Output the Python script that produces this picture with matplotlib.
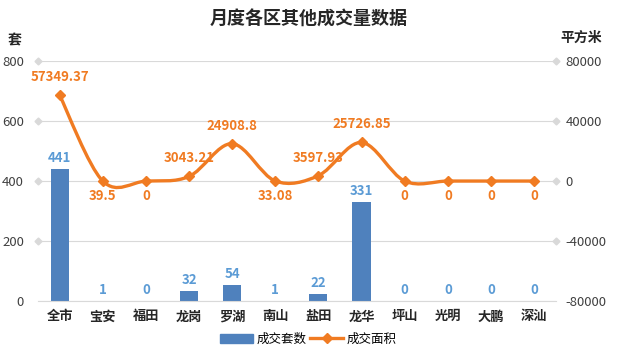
import matplotlib.pyplot as plt
import numpy as np
from matplotlib.path import Path
from matplotlib.patches import PathPatch
from matplotlib.lines import Line2D
from matplotlib.patches import Patch

plt.rcParams['font.family'] = ['Noto Sans CJK SC', 'DejaVu Sans']
plt.rcParams['axes.unicode_minus'] = False

# data
districts = ["全市", "宝安", "福田", "龙岗", "罗湖", "南山", "盐田", "龙华", "坪山", "光明", "大鹏", "深汕"]
units = [441, 1, 0, 32, 54, 1, 22, 331, 0, 0, 0, 0]
area = [57349.37, 39.5, 0, 3043.21, 24908.8, 33.08, 3597.93, 25726.85, 0, 0, 0, 0]
area_labels = ["57349.37", "39.5", "0", "3043.21", "24908.8", "33.08", "3597.93", "25726.85", "0", "0", "0", "0"]
area_label_above = [True, False, False, True, True, False, True, True, False, False, False, False]

bar_color = "#4F81BD"
line_color = "#F07B22"
bar_label_color = "#5B9BD5"
grid_color = "#D9D9D9"
text_color = "#404040"

fig = plt.figure(figsize=(6.17, 3.55), dpi=100)
ax = fig.add_axes([0.0616, 0.152, 0.839, 0.676])
ax2 = ax.twinx()

x = np.arange(len(districts))

# bars
ax.bar(x, units, width=0.42, color=bar_color, zorder=2)
ax.set_ylim(0, 800)
ax.set_yticks([0, 200, 400, 600, 800])
ax.set_xlim(-0.5, len(districts) - 0.5)
ax.yaxis.grid(True, color=grid_color, linewidth=0.8)
ax.set_axisbelow(True)
for s in ["top", "right", "left"]:
    ax.spines[s].set_visible(False)
    ax2.spines[s].set_visible(False)
ax2.spines["bottom"].set_visible(False)
ax.spines["bottom"].set_color(grid_color)
ax.tick_params(axis="y", length=0, labelsize=9.5, labelcolor=text_color, pad=10)
ax.tick_params(axis="x", length=0, pad=6)
ax.set_xticks(x)
ax.set_xticklabels(districts, fontsize=9.5, fontweight="bold", color="#262626")

for xi, v in zip(x, units):
    ax.annotate(str(v), (xi, v), xytext=(0, 3), textcoords="offset points",
                ha="center", va="bottom", fontsize=9.5, fontweight="bold",
                color=bar_label_color)

# grid end diamonds
ax.plot([-0.5] * 4, [200, 400, 600, 800], ls="none", marker="D", ms=3.5,
        color=grid_color, clip_on=False)

# right axis
ax2.set_ylim(-80000, 80000)
ax2.set_yticks([-80000, -40000, 0, 40000, 80000])
ax2.tick_params(axis="y", length=0, labelsize=9.5, labelcolor=text_color, pad=7)
ax2.plot([len(districts) - 0.5] * 4, [-40000, 0, 40000, 80000], ls="none", marker="D",
         ms=3.5, color=grid_color, clip_on=False)

# smooth line (Catmull-Rom bezier)
pts = np.column_stack([x, area]).astype(float)
verts = [tuple(pts[0])]
codes = [Path.MOVETO]
n = len(pts)
for i in range(n - 1):
    p0 = pts[i - 1] if i > 0 else pts[i]
    p1 = pts[i]
    p2 = pts[i + 1]
    p3 = pts[i + 2] if i + 2 < n else pts[i + 1]
    c1 = p1 + (p2 - p0) / 6.0
    c2 = p2 - (p3 - p1) / 6.0
    verts += [tuple(c1), tuple(c2), tuple(p2)]
    codes += [Path.CURVE4] * 3
ax2.add_patch(PathPatch(Path(verts, codes), facecolor="none", edgecolor=line_color,
                        linewidth=2.4, zorder=3))
ax2.plot(x, area, ls="none", marker="D", ms=5.5, color=line_color, zorder=4)

for xi, v, lab, up in zip(x, area, area_labels, area_label_above):
    ax2.annotate(lab, (xi, v), xytext=(0, 8 if up else -6), textcoords="offset points",
                 ha="center", va="bottom" if up else "top", fontsize=9.5,
                 fontweight="bold", color=line_color)

# titles
fig.text(0.5, 0.945, "月度各区其他成交量数据", ha="center", va="center",
         fontsize=13, fontweight="bold", color="#262626")
fig.text(0.012, 0.885, "套", ha="left", va="center", fontsize=10, fontweight="bold", color="#262626")
fig.text(0.975, 0.893, "平方米", ha="right", va="center", fontsize=10, fontweight="bold", color="#262626")

# legend
handles = [Patch(color=bar_color, label="成交套数"),
           Line2D([], [], color=line_color, lw=2.4, marker="D", ms=5, label="成交面积")]
fig.legend(handles=handles, loc="center", bbox_to_anchor=(0.5, 0.045), ncol=2,
           frameon=False, fontsize=9, handlelength=2.6, columnspacing=0.3, handletextpad=0.3)

fig.savefig("out.png", dpi=100)
